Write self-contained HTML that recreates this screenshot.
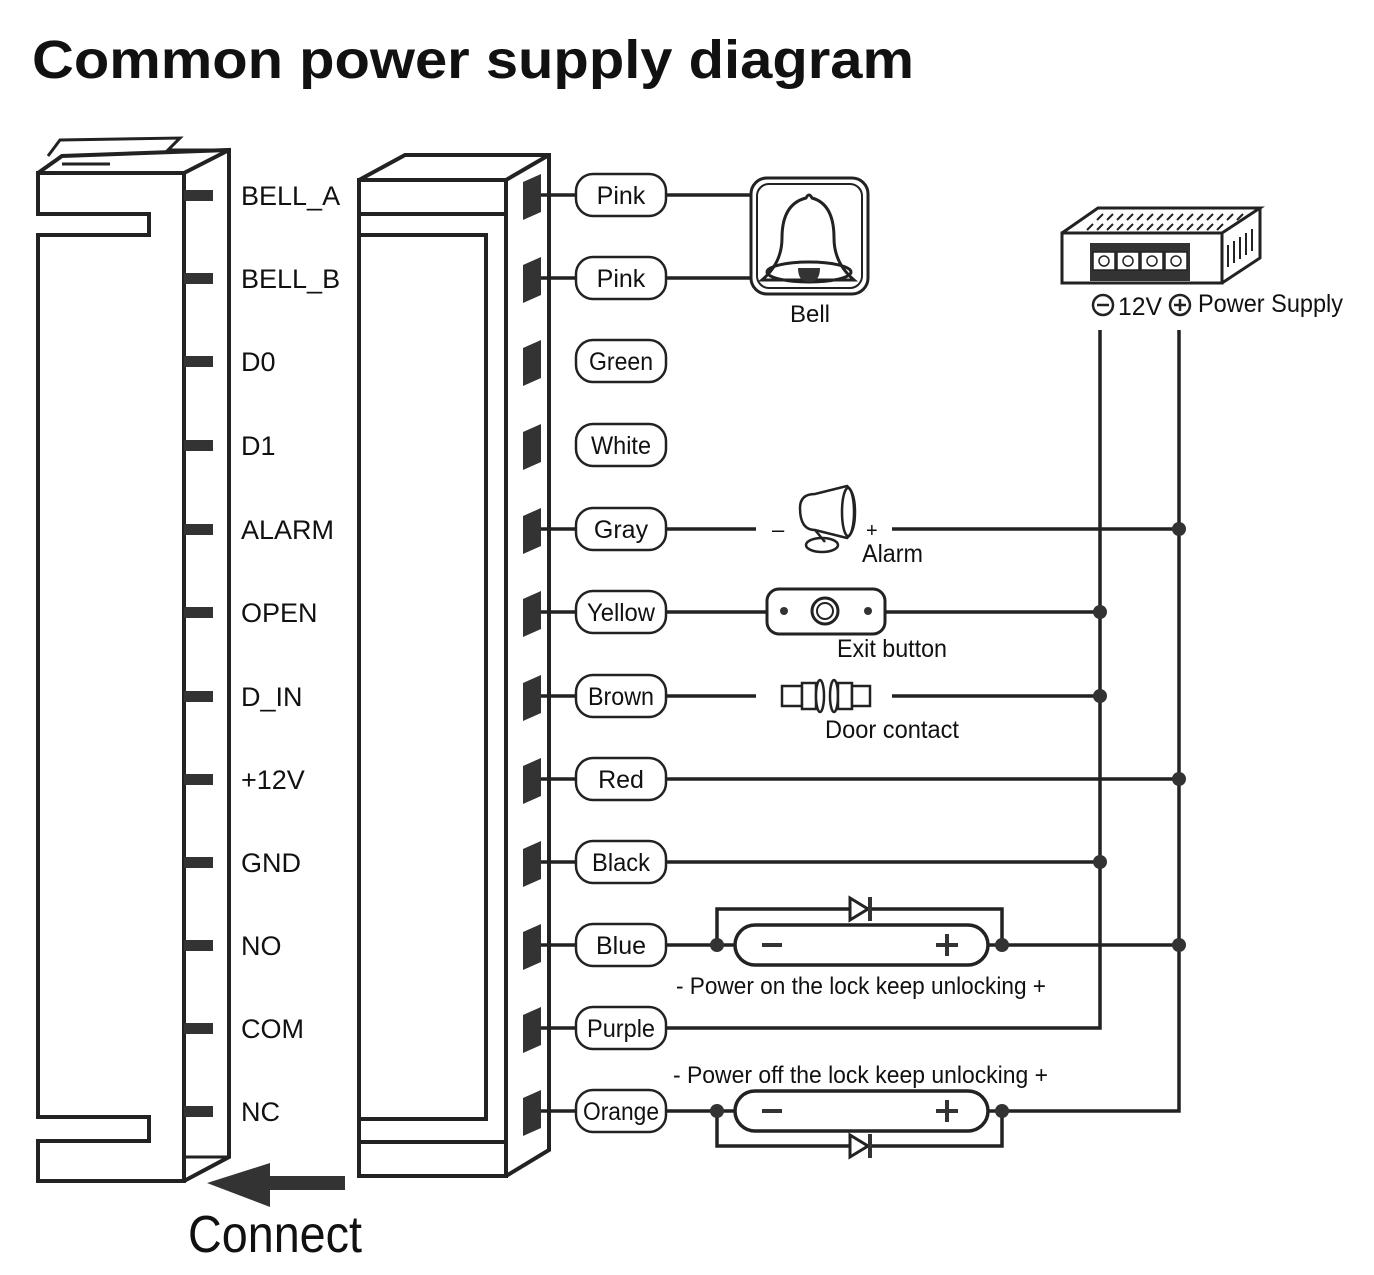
<!DOCTYPE html>
<html><head><meta charset="utf-8"><style>
html,body{margin:0;padding:0;background:#fff;}
svg{display:block;}
text{font-family:"Liberation Sans",sans-serif;fill:#111;}
</style></head><body>
<svg width="1374" height="1275" viewBox="0 0 1374 1275" xmlns="http://www.w3.org/2000/svg">
<text x="32" y="78" font-size="54" font-weight="bold" textLength="882" lengthAdjust="spacingAndGlyphs">Common power supply diagram</text>

<g fill="none" stroke="#222" stroke-width="4">
<path d="M38 173 L184 173 L184 1181 L38 1181 L38 1141 L149 1141 L149 1117 L38 1117 L38 235 L149 235 L149 214 L38 214 Z"/>
<path d="M38 173 L62 156 L229 150 L229 1157 L184 1181"/>
<path d="M184 173 L229 150"/>
<path d="M48 156 L60 140 L180 138 L168 150 L229 150" stroke-width="3"/>
<path d="M62 164 L110 164" stroke-width="3"/>
<path d="M184 1157 L229 1157" stroke-width="3"/>
<path d="M359 180 L506 180 L506 1176 L359 1176 Z"/>
<path d="M359 214 L506 214 M359 1142 L506 1142"/>
<path d="M359 235 L486 235 L486 1119 L359 1119"/>
<path d="M359 180 L405 155 L549 155 L549 1150 L506 1176 M506 180 L549 155"/>
</g>
<path d="M207 1183 L270 1163 L270 1176 L345 1176 L345 1190 L270 1190 L270 1207 Z" fill="#333"/>
<text x="188" y="1252" font-size="52" textLength="174" lengthAdjust="spacingAndGlyphs">Connect</text>

<g fill="#333">
<rect x="184" y="190" width="29" height="11"/><rect x="184" y="273" width="29" height="11"/>
<rect x="184" y="356" width="29" height="11"/><rect x="184" y="440" width="29" height="11"/>
<rect x="184" y="524" width="29" height="11"/><rect x="184" y="607" width="29" height="11"/>
<rect x="184" y="691" width="29" height="11"/><rect x="184" y="774" width="29" height="11"/>
<rect x="184" y="857" width="29" height="11"/><rect x="184" y="940" width="29" height="11"/>
<rect x="184" y="1023" width="29" height="11"/><rect x="184" y="1106" width="29" height="11"/>
</g>
<g font-size="27">
<text x="241" y="205">BELL_A</text><text x="241" y="288">BELL_B</text>
<text x="241" y="371">D0</text><text x="241" y="455">D1</text>
<text x="241" y="539">ALARM</text><text x="241" y="622">OPEN</text>
<text x="241" y="706">D_IN</text><text x="241" y="789">+12V</text>
<text x="241" y="872">GND</text><text x="241" y="955">NO</text>
<text x="241" y="1038">COM</text><text x="241" y="1121">NC</text>
</g>

<g fill="#333">
<path d="M523 182 L541 174 L541 212 L523 220 Z"/><path d="M523 265 L541 257 L541 295 L523 303 Z"/>
<path d="M523 348 L541 340 L541 378 L523 386 Z"/><path d="M523 432 L541 424 L541 462 L523 470 Z"/>
<path d="M523 516 L541 508 L541 546 L523 554 Z"/><path d="M523 599 L541 591 L541 629 L523 637 Z"/>
<path d="M523 683 L541 675 L541 713 L523 721 Z"/><path d="M523 766 L541 758 L541 796 L523 804 Z"/>
<path d="M523 849 L541 841 L541 879 L523 887 Z"/><path d="M523 932 L541 924 L541 962 L523 970 Z"/>
<path d="M523 1015 L541 1007 L541 1045 L523 1053 Z"/><path d="M523 1098 L541 1090 L541 1128 L523 1136 Z"/>
</g>

<g fill="none" stroke="#222" stroke-width="3.5">
<path d="M541 195 H576 M541 278 H576 M541 529 H576 M541 612 H576 M541 696 H576 M541 779 H576 M541 862 H576 M541 945 H576 M541 1028 H576 M541 1111 H576"/>
<path d="M666 195 H752 M666 278 H752"/>
<path d="M666 529 H756 M892 529 H1179"/>
<path d="M666 612 H767 M885 612 H1100"/>
<path d="M666 696 H756 M892 696 H1100"/>
<path d="M666 779 H1179"/>
<path d="M666 862 H1100"/>
<path d="M666 945 H735 M988 945 H1179"/>
<path d="M666 1028 H1100 V330"/>
<path d="M666 1111 H735 M988 1111 H1179 V330"/>
<path d="M717 945 V909 H1002 V945 M717 1111 V1146 H1002 V1111"/>
<rect x="735" y="925" width="253" height="40" rx="20"/>
<rect x="735" y="1091" width="253" height="40" rx="20"/>
</g>
<g fill="#333">
<path d="M850 898 L868 909 L850 920 Z" fill="#fff" stroke="#222" stroke-width="3"/><rect x="868" y="897" width="4" height="24"/>
<path d="M850 1135 L868 1146 L850 1157 Z" fill="#fff" stroke="#222" stroke-width="3"/><rect x="868" y="1134" width="4" height="24"/>
<circle cx="717" cy="945" r="7"/><circle cx="1002" cy="945" r="7"/>
<circle cx="717" cy="1111" r="7"/><circle cx="1002" cy="1111" r="7"/>
<circle cx="1179" cy="529" r="7"/><circle cx="1100" cy="612" r="7"/><circle cx="1100" cy="696" r="7"/>
<circle cx="1179" cy="779" r="7"/><circle cx="1100" cy="862" r="7"/><circle cx="1179" cy="945" r="7"/>
<rect x="762" y="943" width="20" height="4"/><rect x="936" y="943" width="22" height="4"/><rect x="945" y="934" width="4" height="22"/>
<rect x="762" y="1109" width="20" height="4"/><rect x="936" y="1109" width="22" height="4"/><rect x="945" y="1100" width="4" height="22"/>
</g>
<g font-size="24">
<text x="676" y="994" textLength="370" lengthAdjust="spacingAndGlyphs">- Power on the lock keep unlocking +</text>
<text x="673" y="1083" textLength="375" lengthAdjust="spacingAndGlyphs">- Power off the lock keep unlocking  +</text>
</g>

<g fill="#fff" stroke="#222" stroke-width="2.5">
<rect x="576" y="174" width="90" height="42" rx="17"/><rect x="576" y="257" width="90" height="42" rx="17"/>
<rect x="576" y="340" width="90" height="42" rx="17"/><rect x="576" y="424" width="90" height="42" rx="17"/>
<rect x="576" y="508" width="90" height="42" rx="17"/><rect x="576" y="591" width="90" height="42" rx="17"/>
<rect x="576" y="675" width="90" height="42" rx="17"/><rect x="576" y="758" width="90" height="42" rx="17"/>
<rect x="576" y="841" width="90" height="42" rx="17"/><rect x="576" y="924" width="90" height="42" rx="17"/>
<rect x="576" y="1007" width="90" height="42" rx="17"/><rect x="576" y="1090" width="90" height="42" rx="17"/>
</g>
<g font-size="25" text-anchor="middle">
<text x="621" y="204">Pink</text><text x="621" y="287">Pink</text>
<text x="621" y="370" textLength="64" lengthAdjust="spacingAndGlyphs">Green</text><text x="621" y="454" textLength="60" lengthAdjust="spacingAndGlyphs">White</text>
<text x="621" y="538">Gray</text><text x="621" y="621" textLength="68" lengthAdjust="spacingAndGlyphs">Yellow</text>
<text x="621" y="705" textLength="66" lengthAdjust="spacingAndGlyphs">Brown</text><text x="621" y="788">Red</text>
<text x="621" y="871" textLength="58" lengthAdjust="spacingAndGlyphs">Black</text><text x="621" y="954">Blue</text>
<text x="621" y="1037" textLength="68" lengthAdjust="spacingAndGlyphs">Purple</text><text x="621" y="1120" textLength="76" lengthAdjust="spacingAndGlyphs">Orange</text>
</g>

<g fill="none" stroke="#222" stroke-width="3">
<rect x="751" y="178" width="117" height="116" rx="16"/>
<rect x="757" y="184" width="105" height="104" rx="12" stroke-width="2"/>
<path d="M806 198 q3 -6 6 0 q22 6 22 40 q0 25 20 42 h-92 q20 -17 20 -42 q0 -34 24 -40z"/>
<ellipse cx="809" cy="272" rx="42" ry="10"/>
</g>
<path d="M798 268 h22 q0 14 -11 14 q-11 0 -11 -14z" fill="#333"/>
<text x="810" y="322" font-size="24" text-anchor="middle">Bell</text>

<g fill="none" stroke="#222" stroke-width="3">
<path d="M1062 233 L1222 233 L1222 283 L1062 283 Z"/>
<path d="M1062 233 L1098 208 L1260 208 L1222 233 M1260 208 L1260 258 L1222 283"/>
<path d="M1103 214 l-6 6 M1113 214 l-6 6 M1123 214 l-6 6 M1133 214 l-6 6 M1143 214 l-6 6 M1153 214 l-6 6 M1163 214 l-6 6 M1173 214 l-6 6 M1183 214 l-6 6 M1193 214 l-6 6 M1203 214 l-6 6 M1213 214 l-6 6 M1223 214 l-6 6 M1233 214 l-6 6 M1243 214 l-6 6 M1093 224 l-6 6 M1103 224 l-6 6 M1113 224 l-6 6 M1123 224 l-6 6 M1133 224 l-6 6 M1143 224 l-6 6 M1153 224 l-6 6 M1163 224 l-6 6 M1173 224 l-6 6 M1183 224 l-6 6 M1193 224 l-6 6 M1203 224 l-6 6 M1213 224 l-6 6 M1223 224 l-6 6" stroke-width="2"/>
<path d="M1228 245 v22 M1234 241 v22 M1240 237 v22 M1246 233 v22 M1252 229 v22" stroke-width="2"/>
</g>
<rect x="1090" y="243" width="100" height="38" fill="#333"/>
<g fill="#fff" stroke="#222" stroke-width="1.5">
<rect x="1093" y="252" width="22" height="18"/><rect x="1117" y="252" width="22" height="18"/>
<rect x="1141" y="252" width="22" height="18"/><rect x="1165" y="252" width="22" height="18"/>
<circle cx="1104" cy="261" r="5"/><circle cx="1128" cy="261" r="5"/><circle cx="1152" cy="261" r="5"/><circle cx="1176" cy="261" r="5"/>
</g>
<g fill="none" stroke="#222" stroke-width="2.5">
<circle cx="1103" cy="305" r="10"/><circle cx="1180" cy="305" r="10"/>
<path d="M1097 305 h12 M1174 305 h12 M1180 299 v12"/>
</g>
<text x="1118" y="315" font-size="25" textLength="44" lengthAdjust="spacingAndGlyphs">12V</text>
<text x="1198" y="312" font-size="25" textLength="145" lengthAdjust="spacingAndGlyphs">Power Supply</text>

<g fill="none" stroke="#222" stroke-width="2.5">
<path d="M800 508 q0 -14 15 -14 l32 -8 q8 6 8 26 q0 20 -8 26 l-32 -8 q-15 0 -15 -22z"/>
<ellipse cx="848" cy="512" rx="6" ry="24"/>
<ellipse cx="822" cy="545" rx="16" ry="7"/>
<path d="M815 530 l10 12"/>
</g>
<text x="772" y="537" font-size="22">–</text>
<text x="866" y="537" font-size="20">+</text>
<text x="862" y="562" font-size="25" textLength="61" lengthAdjust="spacingAndGlyphs">Alarm</text>

<rect x="767" y="589" width="118" height="45" rx="12" fill="#fff" stroke="#222" stroke-width="3"/>
<circle cx="784" cy="611" r="4" fill="#333"/><circle cx="868" cy="611" r="4" fill="#333"/>
<circle cx="825" cy="611" r="13" fill="none" stroke="#222" stroke-width="3"/>
<circle cx="825" cy="611" r="8" fill="none" stroke="#222" stroke-width="2"/>
<text x="837" y="657" font-size="25" textLength="110" lengthAdjust="spacingAndGlyphs">Exit button</text>

<g fill="#fff" stroke="#222" stroke-width="2.5">
<rect x="782" y="686" width="20" height="20"/><rect x="802" y="683" width="14" height="26"/>
<ellipse cx="820" cy="696" rx="4" ry="16"/>
<ellipse cx="834" cy="696" rx="4" ry="16"/>
<rect x="838" y="683" width="14" height="26"/><rect x="852" y="686" width="18" height="20"/>
</g>
<text x="825" y="738" font-size="25" textLength="134" lengthAdjust="spacingAndGlyphs">Door contact</text>
</svg>
</body></html>
